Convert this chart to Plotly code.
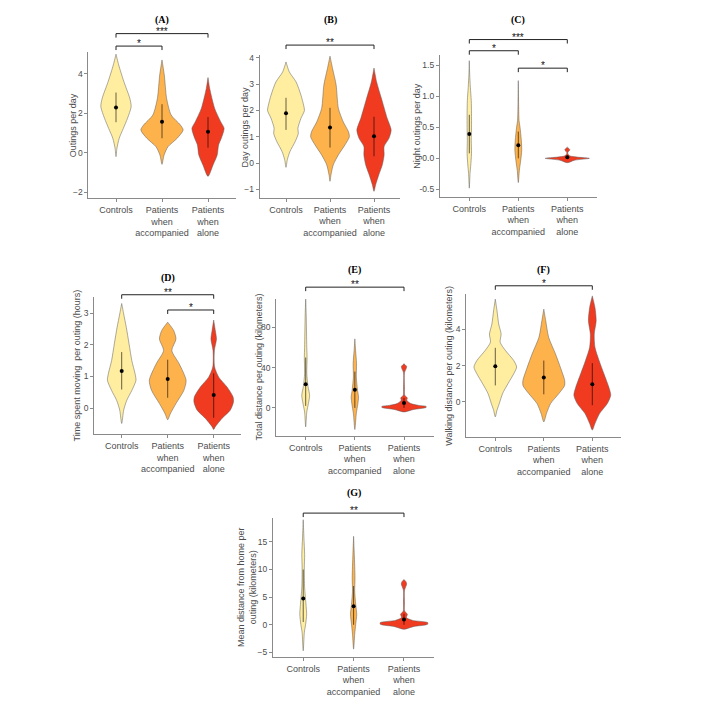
import plotly.graph_objects as go

# page is 711x705; browser body has an 8px margin, so the figure is 16px smaller
PAGE_W, PAGE_H, OFF = 711, 705, 8
FW, FH = PAGE_W - 2 * OFF, PAGE_H - 2 * OFF


def px_x(p):
    return (p - OFF) / FW


def px_y(p):
    return 1 - (p - OFF) / FH


groups = ["Controls", "Patients<br>when<br>accompanied", "Patients<br>when<br>alone"]
fills = ["#FFEDA0", "#FEB24C", "#F03B20"]

# ---------------- (A) Outings per day ----------------
a_ctrl_y = [-0.2, 0.22, 0.73, 1.23, 1.74, 2.33, 2.75, 3.6, 4.44, 4.98]
a_ctrl_w = [0, 0.02, 0.07, 0.16, 0.25, 0.33, 0.30, 0.17, 0.058, 0]
a_acc_y = [-0.59, -0.12, 0.3, 0.73, 1.15, 1.4, 1.9, 2.75, 3.93, 4.69]
a_acc_w = [0, 0.045, 0.13, 0.33, 0.46, 0.40, 0.2, 0.10, 0.05, 0]
a_alone_y = [-1.2, -0.62, -0.12, 0.39, 0.73, 1.23, 1.57, 2.24, 3.26, 3.8]
a_alone_w = [0, 0.11, 0.2, 0.23, 0.29, 0.35, 0.275, 0.145, 0.036, 0]
a_mean = [2.28, 1.57, 1.06]
a_lo = [1.54, 0.73, 0.25]
a_hi = [3.04, 2.45, 1.80]
a_sig = [(0, 2, "***", 6.02), (0, 1, "*", 5.39)]

# ---------------- (B) Day outings per day ----------------
b_ctrl_y = [-0.16, 0.13, 0.44, 0.82, 1.13, 1.32, 1.70, 2.0, 2.2, 2.58, 3.08, 3.46, 3.84]
b_ctrl_w = [0, 0.03, 0.09, 0.21, 0.28, 0.27, 0.34, 0.42, 0.40, 0.34, 0.23, 0.076, 0]
b_acc_y = [-0.69, -0.44, -0.06, 0.31, 0.69, 1.0, 1.19, 1.57, 2.08, 2.96, 3.58, 4.06]
b_acc_w = [0, 0.023, 0.076, 0.19, 0.34, 0.44, 0.42, 0.30, 0.19, 0.14, 0.06, 0]
b_alone_y = [-1.07, -0.82, -0.44, -0.06, 0.31, 0.63, 0.94, 1.26, 1.70, 2.45, 3.08, 3.61]
b_alone_w = [0, 0.038, 0.11, 0.19, 0.23, 0.23, 0.34, 0.39, 0.30, 0.17, 0.06, 0]
b_mean = [1.89, 1.35, 1.02]
b_lo = [1.26, 0.59, 0.26]
b_hi = [2.48, 2.10, 1.76]
b_sig = [(0, 2, "**", 4.48)]

# ---------------- (C) Night outings per day ----------------
c_ctrl_y = [-0.48, -0.24, -0.13, 0.08, 0.29, 0.5, 0.72, 0.93, 1.14, 1.35, 1.57]
c_ctrl_w = [0, 0.015, 0.028, 0.045, 0.04, 0.045, 0.045, 0.04, 0.022, 0.008, 0]
c_acc_y = [-0.39, -0.19, -0.03, 0.13, 0.29, 0.5, 0.61, 0.9, 1.25]
c_acc_w = [0, 0.022, 0.05, 0.07, 0.062, 0.035, 0.015, 0.006, 0]
c_alone_y = [-0.07, -0.03, 0.0, 0.02, 0.04, 0.07, 0.10, 0.125, 0.14, 0.16, 0.18]
c_alone_w = [0, 0.15, 0.45, 0.2, 0.05, 0.012, 0.012, 0.045, 0.05, 0.03, 0]
c_mean = [0.39, 0.21, 0.016]
c_lo = [0.08, 0.0, 0.0]
c_hi = [0.70, 0.43, 0.04]
c_sig = [(0, 2, "***", 1.91), (0, 1, "*", 1.73), (1, 2, "*", 1.45)]

# ---------------- (D) Time spent moving per outing ----------------
d_ctrl_y = [-0.48, -0.06, 0.25, 0.56, 0.88, 1.09, 1.5, 2.03, 2.55, 2.97, 3.30]
d_ctrl_w = [0, 0.043, 0.11, 0.22, 0.31, 0.29, 0.22, 0.16, 0.10, 0.043, 0]
d_acc_y = [-0.36, -0.17, 0.15, 0.56, 0.88, 1.4, 1.82, 2.18, 2.45, 2.71]
d_acc_w = [0, 0.058, 0.18, 0.35, 0.40, 0.25, 0.09, 0.18, 0.13, 0]
d_alone_y = [-0.67, -0.58, -0.32, -0.06, 0.2, 0.36, 0.67, 0.98, 1.3, 1.82, 2.18, 2.45, 2.78]
d_alone_w = [0, 0.036, 0.18, 0.36, 0.43, 0.42, 0.29, 0.11, 0.02, 0.015, 0.06, 0.035, 0]
d_mean = [1.17, 0.92, 0.42]
d_lo = [0.59, 0.33, -0.3]
d_hi = [1.77, 1.53, 1.1]
d_sig = [(0, 2, "**", 3.575), (1, 2, "*", 3.095)]

# ---------------- (E) Total distance per outing ----------------
e_ctrl_y = [-18.8, -4, 4.3, 12.5, 21, 34, 50, 60, 93, 108]
e_ctrl_w = [0, 0.022, 0.055, 0.08, 0.048, 0.022, 0.028, 0.022, 0.01, 0]
e_acc_y = [-21.4, -5.6, 4.3, 10.9, 17.4, 30.6, 44, 57, 68.5]
e_acc_w = [0, 0.03, 0.062, 0.075, 0.055, 0.03, 0.035, 0.015, 0]
e_alone_y = [-4, -1.5, 0.5, 1.5, 2.5, 4.3, 7.6, 9.9, 12.5, 20, 35, 38.5, 41, 43.8]
e_alone_w = [0, 0.2, 0.45, 0.45, 0.3, 0.14, 0.055, 0.068, 0.015, 0.01, 0.01, 0.04, 0.054, 0]
e_mean = [23.4, 18.1, 4.9]
e_lo = [2, 0, 0]
e_hi = [50, 36, 10]
e_sig = [(0, 2, "**", 119.8)]

# ---------------- (F) Walking distance per outing ----------------
f_ctrl_y = [-0.82, -0.46, -0.09, 0.46, 1.0, 1.55, 1.92, 2.28, 2.83, 3.29, 3.74, 4.29, 5.02, 5.66]
f_ctrl_w = [0, 0.034, 0.082, 0.15, 0.26, 0.38, 0.44, 0.38, 0.21, 0.10, 0.12, 0.07, 0.035, 0]
f_acc_y = [-1.1, -0.64, -0.09, 0.46, 0.91, 1.19, 1.92, 2.65, 3.56, 4.47, 5.11]
f_acc_w = [0, 0.055, 0.14, 0.31, 0.43, 0.43, 0.34, 0.24, 0.10, 0.04, 0]
f_alone_y = [-1.55, -1.19, -0.64, -0.09, 0.37, 0.82, 1.55, 2.28, 3.01, 3.74, 4.47, 5.2, 5.84]
f_alone_w = [0, 0.055, 0.15, 0.31, 0.38, 0.34, 0.24, 0.14, 0.055, 0.04, 0.08, 0.055, 0]
f_mean = [1.97, 1.35, 0.97]
f_lo = [0.91, 0.42, -0.18]
f_hi = [2.98, 2.28, 2.14]
f_sig = [(0, 2, "*", 6.395)]

# ---------------- (G) Mean distance from home per outing ----------------
g_ctrl_y = [-4.7, -1.4, 0.1, 1.9, 3.7, 6.7, 10.3, 12.7, 15.7, 19.0]
g_ctrl_w = [0, 0.022, 0.048, 0.068, 0.055, 0.028, 0.022, 0.028, 0.014, 0]
g_acc_y = [-4.4, -1.7, 0.1, 1.9, 3.7, 6.1, 8.5, 12.7, 16.0]
g_acc_w = [0, 0.022, 0.042, 0.062, 0.042, 0.022, 0.028, 0.014, 0]
g_alone_y = [-0.8, -0.3, 0.1, 0.4, 0.8, 1.3, 1.9, 2.5, 4.0, 6.2, 7.0, 7.4, 7.8, 8.2]
g_alone_w = [0, 0.2, 0.47, 0.47, 0.17, 0.05, 0.067, 0.013, 0.01, 0.01, 0.04, 0.053, 0.04, 0]
g_mean = [4.74, 3.36, 0.96]
g_lo = [0.5, 0, 0]
g_hi = [10, 7, 2]
g_sig = [(0, 2, "**", 20.2)]

panels = [
    dict(tag="(A)", ytitle="Outings per day",
         prof=[(a_ctrl_y, a_ctrl_w), (a_acc_y, a_acc_w), (a_alone_y, a_alone_w)],
         mean=a_mean, lo=a_lo, hi=a_hi, sig=a_sig,
         yr=[-2.3, 5.1], yt=[-2, 0, 2, 4], ytt=None,
         box=(88.4, 235.6, 50, 197), tag_y=18, ytx=73.3),
    dict(tag="(B)", ytitle="Day outings per day",
         prof=[(b_ctrl_y, b_ctrl_w), (b_acc_y, b_acc_w), (b_alone_y, b_alone_w)],
         mean=b_mean, lo=b_lo, hi=b_hi, sig=b_sig,
         yr=[-1.32, 4.1], yt=[-1, 0, 1, 2, 3, 4], ytt=None,
         box=(259.6, 400.4, 53.3, 196.7), tag_y=18, ytx=245),
    dict(tag="(C)", ytitle="Night outings per day",
         prof=[(c_ctrl_y, c_ctrl_w), (c_acc_y, c_acc_w), (c_alone_y, c_alone_w)],
         mean=c_mean, lo=c_lo, hi=c_hi, sig=c_sig,
         yr=[-0.62, 1.66], yt=[-0.5, 0, 0.5, 1.0, 1.5], ytt=["-0.5", "0.0", "0.5", "1.0", "1.5"],
         box=(439.9, 596.7, 53.3, 195.7), tag_y=18, ytx=416.7),
    dict(tag="(D)", ytitle="Time spent moving  per outing (hours)",
         prof=[(d_ctrl_y, d_ctrl_w), (d_acc_y, d_acc_w), (d_alone_y, d_alone_w)],
         mean=d_mean, lo=d_lo, hi=d_hi, sig=d_sig,
         yr=[-0.815, 3.49], yt=[0, 1, 2, 3], ytt=None,
         box=(94.1, 241.3, 296.7, 434), tag_y=277, ytx=76.7),
    dict(tag="(E)", ytitle="Total distance per outing (kilometers)",
         prof=[(e_ctrl_y, e_ctrl_w), (e_acc_y, e_acc_w), (e_alone_y, e_alone_w)],
         mean=e_mean, lo=e_lo, hi=e_hi, sig=e_sig,
         yr=[-27.7, 108.3], yt=[0, 40, 80], ytt=None,
         box=(276.2, 433.5, 298, 435.7), tag_y=269, ytx=259.3),
    dict(tag="(F)", ytitle="Walking distance per outing (kilometers)",
         prof=[(f_ctrl_y, f_ctrl_w), (f_acc_y, f_acc_w), (f_alone_y, f_alone_w)],
         mean=f_mean, lo=f_lo, hi=f_hi, sig=f_sig,
         yr=[-1.92, 5.94], yt=[0, 2, 4], ytt=None,
         box=(466.2, 621.4, 293.3, 436.7), tag_y=269, ytx=449.3),
    dict(tag="(G)", ytitle="Mean distance from home per<br>outing (kilometers)",
         prof=[(g_ctrl_y, g_ctrl_w), (g_acc_y, g_acc_w), (g_alone_y, g_alone_w)],
         mean=g_mean, lo=g_lo, hi=g_hi, sig=g_sig,
         yr=[-5.8, 19.3], yt=[-5, 0, 5, 10, 15], ytt=None,
         box=(273, 434.2, 518.3, 657.7), tag_y=493, ytx=247.5),
]

FONT = "Liberation Sans, Arial, sans-serif"
GRAY_TXT = "#4d4d4d"
AXIS_COL = "#8a8a8a"

fig = go.Figure()
layout = dict(
    width=FW, height=FH, margin=dict(l=0, r=0, t=0, b=0),
    paper_bgcolor="white", plot_bgcolor="white", showlegend=False,
    font=dict(family=FONT, color=GRAY_TXT), hovermode=False,
)
shapes = []
annotations = []

for k, p in enumerate(panels, start=1):
    sfx = "" if k == 1 else str(k)
    xa, ya = "x" + sfx, "y" + sfx
    x0, x1, y0, y1 = p["box"]
    ydom = [px_y(y1), px_y(y0)]
    r0, r1 = p["yr"]

    for g in range(3):
        ys, ws = p["prof"][g]
        xs = [g + w for w in ws] + [g - w for w in ws[::-1]]
        yy = list(ys) + list(ys[::-1])
        fig.add_trace(go.Scatter(
            x=xs, y=yy, xaxis=xa, yaxis=ya, mode="lines", fill="toself",
            fillcolor=fills[g],
            line=dict(color="#5a5a5a", width=0.5, shape="spline", smoothing=0.7,
                      simplify=False),
            hoverinfo="skip"))
    for g in range(3):
        fig.add_trace(go.Scatter(
            x=[g, g], y=[p["lo"][g], p["hi"][g]], xaxis=xa, yaxis=ya, mode="lines",
            line=dict(color="rgba(0,0,0,0.6)", width=1), hoverinfo="skip"))
    fig.add_trace(go.Scatter(
        x=[0, 1, 2], y=p["mean"], xaxis=xa, yaxis=ya, mode="markers",
        marker=dict(color="black", size=4), hoverinfo="skip"))

    layout["xaxis" + sfx] = dict(
        domain=[px_x(x0), px_x(x1)], range=[-0.6, 2.6], anchor=ya,
        tickvals=[0, 1, 2], ticktext=groups, tickangle=0, showline=True,
        linecolor=AXIS_COL, linewidth=1, ticks="outside", ticklen=3,
        tickcolor=AXIS_COL, showgrid=False, zeroline=False, fixedrange=True,
        tickfont=dict(size=9, color=GRAY_TXT, family=FONT))
    yax = dict(
        domain=ydom, range=[r0, r1], anchor=xa, tickvals=p["yt"],
        showline=True, linecolor=AXIS_COL, linewidth=1, ticks="outside",
        ticklen=3, tickcolor=AXIS_COL, showgrid=False, zeroline=False,
        fixedrange=True, tickfont=dict(size=8.5, color=GRAY_TXT, family=FONT))
    if p["ytt"]:
        yax["ticktext"] = p["ytt"]
    layout["yaxis" + sfx] = yax

    def to_paper(v):
        return ydom[0] + (v - r0) / (r1 - r0) * (ydom[1] - ydom[0])

    tip = 4 / FH
    for (i, j, lab, yv) in p["sig"]:
        yp = to_paper(yv)
        shapes.append(dict(
            type="path", xref=xa, yref="paper",
            path=f"M {i},{yp - tip} L {i},{yp} L {j},{yp} L {j},{yp - tip}",
            line=dict(color="#222", width=1)))
        annotations.append(dict(
            x=(i + j) / 2, xref=xa, y=yp, yref="paper", text=lab,
            showarrow=False, yanchor="bottom", yshift=-5,
            font=dict(size=10, color="#111111", family=FONT)))

    annotations.append(dict(
        x=1, xref=xa, y=px_y(p["tag_y"]), yref="paper", text="<b>" + p["tag"] + "</b>",
        showarrow=False, xanchor="center", yanchor="middle",
        font=dict(size=10, color="black", family="Liberation Serif, Times New Roman, serif")))
    annotations.append(dict(
        x=px_x(p["ytx"]), xref="paper", y=(ydom[0] + ydom[1]) / 2, yref="paper",
        text=p["ytitle"], showarrow=False, textangle=-90,
        xanchor="center", yanchor="middle",
        font=dict(size=9, color=GRAY_TXT, family=FONT)))

layout["shapes"] = shapes
layout["annotations"] = annotations
fig.update_layout(**layout)

fig.write_html("out.html", config={"displayModeBar": False})
